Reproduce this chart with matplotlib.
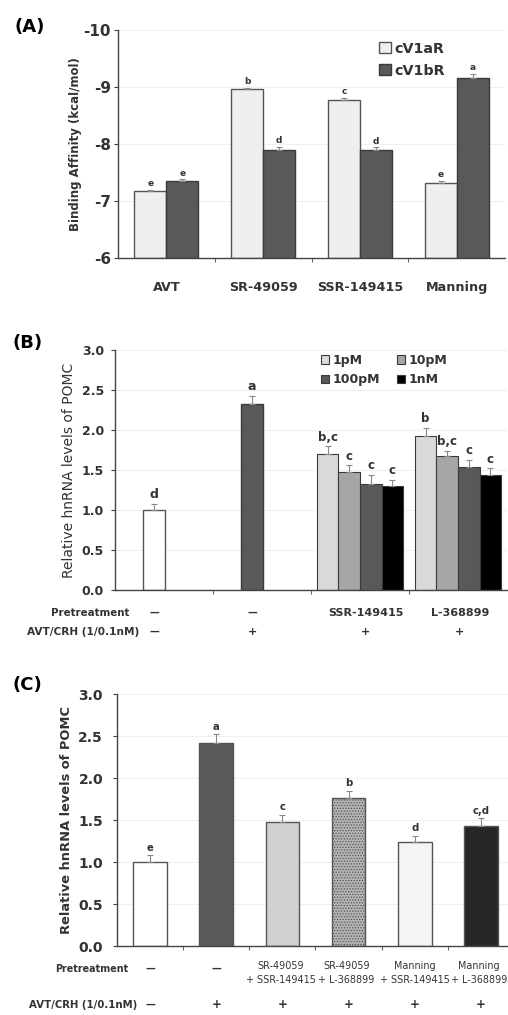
import matplotlib
matplotlib.use("Agg")
import matplotlib.pyplot as plt
import numpy as np

plt.rcParams['font.family'] = ['DejaVu Sans']
plt.rcParams['hatch.linewidth'] = 0.6

# ---------------- data ----------------
# (A) binding affinity
a_drugs = ["AVT", "SR-49059", "SSR-149415", "Manning"]
a_v1a = [-7.17, -8.96, -8.78, -7.32]
a_v1a_err = [0.03, 0.02, 0.03, 0.03]
a_v1a_let = ["e", "b", "c", "e"]
a_v1b = [-7.35, -7.90, -7.89, -9.16]
a_v1b_err = [0.03, 0.05, 0.05, 0.07]
a_v1b_let = ["e", "d", "d", "a"]

# (B) dose response of antagonists
b_ctrl = [1.00, 2.33]
b_ctrl_err = [0.08, 0.10]
b_ctrl_let = ["d", "a"]
b_doses = ["1pM", "10pM", "100pM", "1nM"]
b_ssr = [1.70, 1.48, 1.33, 1.30]
b_ssr_err = [0.10, 0.08, 0.11, 0.08]
b_ssr_let = ["b,c", "c", "c", "c"]
b_l36 = [1.92, 1.67, 1.54, 1.44]
b_l36_err = [0.11, 0.07, 0.09, 0.08]
b_l36_let = ["b", "b,c", "c", "c"]
b_pre = ["—", "—", "SSR-149415", "L-368899"]
b_avt = ["—", "+", "+", "+"]

# (C) combinations
c_vals = [1.00, 2.42, 1.48, 1.76, 1.24, 1.43]
c_err = [0.08, 0.10, 0.08, 0.09, 0.07, 0.09]
c_let = ["e", "a", "c", "b", "d", "c,d"]
c_pre = ["—", "—", "SR-49059\n+ SSR-149415", "SR-49059\n+ L-368899",
         "Manning\n+ SSR-149415", "Manning\n+ L-368899"]
c_avt = ["—", "+", "+", "+", "+", "+"]

TXT = "#333333"

# ---------------- figure ----------------
W, H = 508, 1015
fig = plt.figure(figsize=(W / 100, H / 100), dpi=100)


def px_axes(l, t, r, b):
    return fig.add_axes([l / W, 1 - b / H, (r - l) / W, (b - t) / H])


def style(ax, n, pad):
    for s in ["top", "right"]:
        ax.spines[s].set_visible(False)
    for s in ["left", "bottom"]:
        ax.spines[s].set_color("#444444")
        ax.spines[s].set_linewidth(1.0)
    ax.set_xlim(-0.5, n - 0.5)
    ax.set_xticks(np.arange(n - 1) + 0.5)
    ax.tick_params(axis="x", length=3, color="#666666", labelbottom=False)
    ax.tick_params(axis="y", length=3, color="#444444", pad=pad, labelcolor=TXT)
    ax.yaxis.grid(True, color="#f0f0f0", lw=0.8)
    ax.set_axisbelow(True)


ebkw = dict(fmt="none", ecolor="#888888", elinewidth=0.8, capsize=2, capthick=0.8)

# ---------- (A) ----------
axA = px_axes(118, 30, 505, 258)
style(axA, 4, 2)
xa = np.arange(4)
w = 0.33
axA.bar(xa - w / 2, np.array(a_v1a) + 6, bottom=-6, width=w, color="#efefef",
        edgecolor="#555555", lw=1.0, label="cV1aR")
axA.bar(xa + w / 2, np.array(a_v1b) + 6, bottom=-6, width=w, color="#595959",
        edgecolor="#3a3a3a", lw=1.0, label="cV1bR")
axA.errorbar(xa - w / 2, a_v1a, yerr=[a_v1a_err, [0] * 4], **ebkw)
axA.errorbar(xa + w / 2, a_v1b, yerr=[a_v1b_err, [0] * 4], **ebkw)
for i in range(4):
    axA.text(xa[i] - w / 2, a_v1a[i] - a_v1a_err[i] - 0.03, a_v1a_let[i],
             ha="center", va="bottom", fontsize=6.5, fontweight="bold", color=TXT)
    axA.text(xa[i] + w / 2, a_v1b[i] - a_v1b_err[i] - 0.03, a_v1b_let[i],
             ha="center", va="bottom", fontsize=6.5, fontweight="bold", color=TXT)
axA.set_ylim(-6, -10)
axA.set_yticks([-6, -7, -8, -9, -10])
axA.set_yticklabels(["-6", "-7", "-8", "-9", "-10"], fontsize=11, fontweight="bold")
for i, d in enumerate(a_drugs):
    axA.text(i, -0.1, d, transform=axA.get_xaxis_transform(), ha="center", va="top",
             fontsize=9.2, fontweight="bold", color=TXT)
axA.set_ylabel("Binding Affinity (kcal/mol)", fontsize=8.5, fontweight="bold",
               labelpad=1, color=TXT)
axA.legend(loc="upper left", bbox_to_anchor=(0.655, 0.98), frameon=False,
           handlelength=0.85, handleheight=0.85, handletextpad=0.25, labelspacing=0.55,
           prop=dict(size=10.3, weight="bold"), borderpad=0, labelcolor=TXT)
fig.text(14 / W, 1 - 27 / H, "(A)", fontsize=13, fontweight="bold", va="center")

# ---------- (B) ----------
axB = px_axes(115, 350, 507, 590)
style(axB, 4, 5)
bw = 0.22
off = -0.1
axB.bar([0 + off], [b_ctrl[0]], width=bw, color="white", edgecolor="#555555", lw=1.0)
axB.bar([1 + off], [b_ctrl[1]], width=bw, color="#595959", edgecolor="#3a3a3a", lw=1.0)
axB.errorbar([off, 1 + off], b_ctrl, yerr=[[0, 0], b_ctrl_err], **ebkw)
for i in range(2):
    axB.text(i + off, b_ctrl[i] + b_ctrl_err[i] + 0.03, b_ctrl_let[i], ha="center",
             va="bottom", fontsize=9, fontweight="bold", color=TXT)
dose_cols = ["#d9d9d9", "#a6a6a6", "#595959", "#000000"]
handles = {}
for grp, vals, errs, lets in [(2, b_ssr, b_ssr_err, b_ssr_let), (3, b_l36, b_l36_err, b_l36_let)]:
    for k in range(4):
        xk = grp + (k - 1.5) * bw
        bc = axB.bar([xk], [vals[k]], width=bw, color=dose_cols[k], edgecolor="#3a3a3a", lw=0.8)
        handles[b_doses[k]] = bc
        axB.errorbar([xk], [vals[k]], yerr=[[0], [errs[k]]], **ebkw)
        axB.text(xk, vals[k] + errs[k] + 0.03, lets[k], ha="center", va="bottom",
                 fontsize=8.5, fontweight="bold", color=TXT)
axB.set_ylim(0, 3.0)
axB.set_yticks(np.arange(0, 3.01, 0.5))
axB.set_yticklabels(["%.1f" % v for v in np.arange(0, 3.01, 0.5)], fontsize=9, fontweight="bold")
axB.set_ylabel("Relative hnRNA levels of POMC", fontsize=10, labelpad=4, color=TXT)
# row-wise legend order: 1pM 10pM / 100pM 1nM
order = [b_doses[0], b_doses[2], b_doses[1], b_doses[3]]
axB.legend([handles[k] for k in order], order, loc="upper left", bbox_to_anchor=(0.51, 1.01),
           ncol=2, frameon=False, handlelength=0.65, handleheight=0.65, handletextpad=0.3,
           labelspacing=0.5, columnspacing=1.3, prop=dict(size=9, weight="bold"),
           borderpad=0, labelcolor=TXT)
tB = axB.get_xaxis_transform()
pre_x = [0 + off, 1 + off, 2.06, 3.02]
for i in range(4):
    axB.text(pre_x[i], -0.095, b_pre[i], transform=tB, ha="center", va="center",
             fontsize=8 if i > 1 else 7, fontweight="bold", color=TXT)
    axB.text(pre_x[i], -0.175, b_avt[i], transform=tB, ha="center", va="center",
             fontsize=8 if i else 7, fontweight="bold", color=TXT)
fig.text(129 / W, 1 - 613 / H, "Pretreatment", ha="right", va="center",
         fontsize=7.4, fontweight="bold", color=TXT)
fig.text(139 / W, 1 - 632 / H, "AVT/CRH (1/0.1nM)", ha="right", va="center",
         fontsize=7.6, fontweight="bold", color=TXT)
fig.text(13 / W, 1 - 343 / H, "(B)", fontsize=13, fontweight="bold", va="center")

# ---------- (C) ----------
axC = px_axes(117, 694, 514, 946)
style(axC, 6, 7)
xc = np.arange(6)
c_cols = ["white", "#595959", "#d0d0d0", "#b4b4b4", "#f4f4f4", "#262626"]
c_hatch = [None, None, None, "......", None, None]
for i in range(6):
    axC.bar([xc[i]], [c_vals[i]], width=0.51, color=c_cols[i], edgecolor="#555555",
            lw=1.0, hatch=c_hatch[i])
axC.errorbar(xc, c_vals, yerr=[[0] * 6, c_err], **ebkw)
for i in range(6):
    axC.text(xc[i], c_vals[i] + c_err[i] + 0.03, c_let[i], ha="center", va="bottom",
             fontsize=7.3, fontweight="bold", color=TXT)
axC.set_ylim(0, 3.0)
axC.set_yticks(np.arange(0, 3.01, 0.5))
axC.set_yticklabels(["%.1f" % v for v in np.arange(0, 3.01, 0.5)], fontsize=10, fontweight="bold")
axC.set_ylabel("Relative hnRNA levels of POMC", fontsize=9.4, fontweight="bold",
               labelpad=4, color=TXT)
tC = axC.get_xaxis_transform()
pre_shift = [0, 0, -0.02, -0.03, 0, -0.03]
for i in range(6):
    if i > 1:
        axC.text(xc[i] + pre_shift[i], -0.06, c_pre[i], transform=tC, ha="center", va="top",
                 fontsize=6.9, color=TXT, linespacing=1.45)
    else:
        axC.text(xc[i], -0.09, c_pre[i], transform=tC, ha="center", va="center",
                 fontsize=7, fontweight="bold", color=TXT)
    axC.text(xc[i], -0.232, c_avt[i], transform=tC, ha="center", va="center",
             fontsize=8.5 if i else 7, fontweight="bold", color=TXT)
fig.text(128 / W, 1 - 969 / H, "Pretreatment", ha="right", va="center",
         fontsize=6.9, fontweight="bold", color=TXT)
fig.text(137 / W, 1 - 1005 / H, "AVT/CRH (1/0.1nM)", ha="right", va="center",
         fontsize=7.3, fontweight="bold", color=TXT)
fig.text(13 / W, 1 - 685 / H, "(C)", fontsize=13, fontweight="bold", va="center")

fig.savefig("out.png", dpi=100)
